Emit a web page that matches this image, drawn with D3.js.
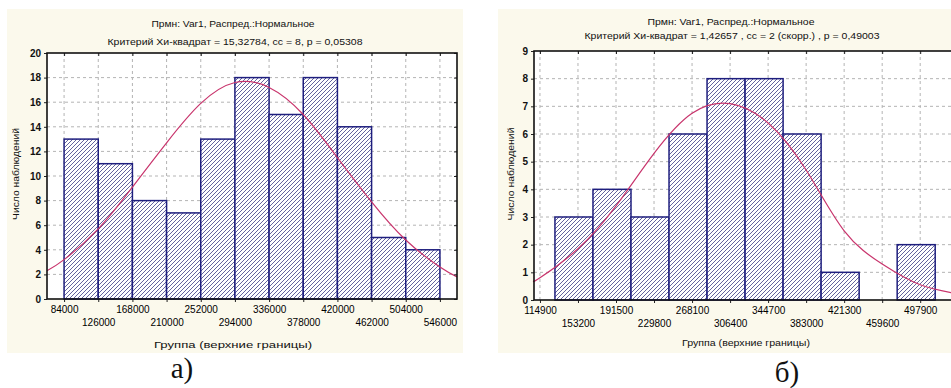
<!DOCTYPE html>
<html>
<head>
<meta charset="utf-8">
<script src="https://cdn.jsdelivr.net/npm/d3@7"></script>
<style>
  body { margin: 0; background: #ffffff; }
  text { font-family: "Liberation Sans", Arial, sans-serif; fill: #111; }
</style>
</head>
<body>
<div id="chart"></div>
<script>
// panel a) - class upper bounds, counts, fitted curve
var ticksA = [84000, 126000, 168000, 210000, 252000, 294000, 336000, 378000, 420000, 462000, 504000, 546000];
var edgesA = [84000, 126000, 168000, 210000, 252000, 294000, 336000, 378000, 420000, 462000, 504000, 546000];
var countsA = [13, 11, 8, 7, 13, 18, 15, 18, 14, 5, 4];
var curveXA = [63000, 84000, 126000, 168000, 210000, 252000, 294000, 336000, 378000, 420000, 462000, 504000, 546000, 567000];
var curveYA = [2.3, 3.2, 5.7, 9.1, 12.7, 15.9, 17.6, 17.2, 15.0, 11.5, 7.9, 4.8, 2.6, 1.8];
var domainA = [63000, 567000];
var yTicksA = [0, 2, 4, 6, 8, 10, 12, 14, 16, 18, 20];
var titleA1 = "Прмн: Var1, Распред.:Нормальное";
var titleA2 = "Критерий Хи-квадрат =  15,32784,  сс = 8, p =  0,05308";

// panel б)
var ticksB = [114900, 153200, 191500, 229800, 268100, 306400, 344700, 383000, 421300, 459600, 497900];
var edgesB = [130000, 168300, 206600, 244900, 283200, 321500, 359800, 398100, 436400, 474700, 513000];
var countsB = [3, 4, 3, 6, 8, 8, 6, 1, 0, 2];
var curveXB = [108900, 114900, 153200, 191500, 229800, 268100, 306400, 344700, 383000, 421300, 459600, 497900, 540000];
var curveYB = [0.7, 0.8, 1.85, 3.4, 5.3, 6.75, 7.1, 6.4, 4.7, 2.5, 1.3, 0.55, 0.2];
var domainB = [108900, 540000];
var yTicksB = [0, 1, 2, 3, 4, 5, 6, 7, 8, 9];
var titleB1 = "Прмн: Var1,  Распред.:Нормальное";
var titleB2 = "Критерий Хи-квадрат =  1,42657 , сс = 2 (скорр.) , p = 0,49003";

var yTitle = "Число наблюдений";
var xTitle = "Группа (верхние границы)";

var svg = d3.select("#chart")
            .append("svg")
                .attr("width", 951)
                .attr("height", 388);

// hatch for the bars, "/" direction
var pat = svg.append("defs").append("pattern")
        .attr("id", "hatch")
        .attr("patternUnits", "userSpaceOnUse")
        .attr("width", 4)
        .attr("height", 4);
pat.append("rect").attr("width", 4).attr("height", 4).attr("fill", "#ffffff");
pat.append("path")
        .attr("d", "M-1,1 l2,-2 M0,4 l4,-4 M3,5 l2,-2")
        .attr("stroke", "#30307c")
        .attr("stroke-width", 0.75);

function drawPanel(p) {
    var g = svg.append("g");

    // cream panel
    g.append("rect")
        .attr("x", p.bg[0]).attr("y", p.bg[1])
        .attr("width", p.bg[2]).attr("height", p.bg[3])
        .attr("fill", "#fbf9ec");

    var x = d3.scaleLinear().domain(p.domain).range([p.left, p.right]);
    var y = d3.scaleLinear().domain([0, p.yTicks[p.yTicks.length - 1]]).range([p.bottom, p.top]);

    g.append("rect")
        .attr("x", p.left).attr("y", p.top)
        .attr("width", p.right - p.left).attr("height", p.bottom - p.top)
        .attr("fill", "#ffffff");

    // grid
    g.append("g").selectAll("line").data(p.ticks).join("line")
        .attr("x1", d => x(d)).attr("x2", d => x(d))
        .attr("y1", p.top).attr("y2", p.bottom)
        .attr("stroke", "#b4b4b4").attr("stroke-dasharray", "3,3");
    g.append("g").selectAll("line").data(p.yTicks.slice(1, -1)).join("line")
        .attr("x1", p.left).attr("x2", p.right)
        .attr("y1", d => y(d)).attr("y2", d => y(d))
        .attr("stroke", "#b4b4b4").attr("stroke-dasharray", "3,3");

    // bars
    g.append("g").selectAll("rect").data(p.counts).join("rect")
        .attr("x", (d, i) => x(p.edges[i]))
        .attr("width", (d, i) => x(p.edges[i + 1]) - x(p.edges[i]))
        .attr("y", d => y(d))
        .attr("height", d => p.bottom - y(d))
        .attr("fill", "url(#hatch)")
        .attr("stroke", d => d > 0 ? "#1e1e7e" : "none")
        .attr("stroke-width", 1.5);

    // normal curve
    var line = d3.line()
        .x(d => x(d[0]))
        .y(d => y(d[1]))
        .curve(d3.curveNatural);
    g.append("path")
        .datum(d3.zip(p.curveX, p.curveY))
        .attr("d", line)
        .attr("fill", "none")
        .attr("stroke", "#c8346c")
        .attr("stroke-width", 1.2);

    // axes
    var xa = g.append("g")
        .attr("transform", "translate(0," + p.bottom + ")")
        .call(d3.axisBottom(x).tickValues(p.ticks).tickSize(3).tickFormat(d3.format("d")));
    xa.selectAll("text")
        .attr("y", (d, i) => i % 2 ? 20 : 6.5)
        .style("font-size", "10px")
        .style("fill", "#000");

    var ya = g.append("g")
        .attr("transform", "translate(" + p.left + ",0)")
        .call(d3.axisLeft(y).tickValues(p.yTicks).tickSize(3).tickPadding(3));
    ya.selectAll("text").style("font-size", "10px").style("font-weight", "bold");

    g.append("g")
        .attr("transform", "translate(0," + p.top + ")")
        .call(d3.axisTop(x).tickValues(p.ticks).tickSize(-3).tickFormat(""));
    g.append("g")
        .attr("transform", "translate(" + p.right + ",0)")
        .call(d3.axisRight(y).tickValues(p.yTicks).tickSize(-3).tickFormat(""));

    g.selectAll(".domain").attr("stroke", "none");
    g.selectAll(".tick line").attr("stroke", "#222");

    // frame
    g.append("rect")
        .attr("x", p.left).attr("y", p.top)
        .attr("width", p.right - p.left).attr("height", p.bottom - p.top)
        .attr("fill", "none")
        .attr("stroke", "#111")
        .attr("stroke-width", 1.6);

    // texts
    g.append("text")
        .attr("x", p.t1[0]).attr("y", p.t1[1])
        .attr("text-anchor", "middle")
        .attr("textLength", p.t1[2]).attr("lengthAdjust", "spacingAndGlyphs")
        .style("font-size", "9px")
        .text(p.title1);
    g.append("text")
        .attr("x", p.t2[0]).attr("y", p.t2[1])
        .attr("text-anchor", "middle")
        .attr("textLength", p.t2[2]).attr("lengthAdjust", "spacingAndGlyphs")
        .style("font-size", "9px")
        .text(p.title2);
    g.append("text")
        .attr("x", p.xt[0]).attr("y", p.xt[1])
        .attr("text-anchor", "middle")
        .attr("textLength", p.xt[2]).attr("lengthAdjust", "spacingAndGlyphs")
        .style("font-size", "9px")
        .text(xTitle);
    g.append("text")
        .attr("transform", "translate(" + p.yt[0] + "," + p.yt[1] + ") rotate(-90)")
        .attr("text-anchor", "middle")
        .attr("dy", "0.35em")
        .attr("textLength", p.yt[2]).attr("lengthAdjust", "spacingAndGlyphs")
        .style("font-size", "9px")
        .text(yTitle);

    g.append("text")
        .attr("x", p.lab[0]).attr("y", p.lab[1])
        .attr("text-anchor", "middle")
        .style("font-family", "'Liberation Serif', 'Times New Roman', serif")
        .style("font-size", "29px")
        .text(p.label);
}

drawPanel({
    bg: [7, 9, 456, 344],
    left: 47, right: 457, top: 53, bottom: 299,
    domain: domainA, ticks: ticksA, edges: edgesA, counts: countsA,
    curveX: curveXA, curveY: curveYA, yTicks: yTicksA,
    title1: titleA1, title2: titleA2,
    t1: [233, 27, 163], t2: [235, 45, 255], xt: [233, 348, 158], yt: [16, 174, 92],
    lab: [182, 378], label: "а)"
});

drawPanel({
    bg: [498, 9, 460, 344],
    left: 534, right: 962, top: 51, bottom: 300,
    domain: domainB, ticks: ticksB, edges: edgesB, counts: countsB,
    curveX: curveXB, curveY: curveYB, yTicks: yTicksB,
    title1: titleB1, title2: titleB2,
    t1: [731, 25, 167], t2: [732, 39, 295], xt: [746, 346, 128], yt: [511, 174, 93],
    lab: [787, 382], label: "б)"
});
</script>
</body>
</html>
